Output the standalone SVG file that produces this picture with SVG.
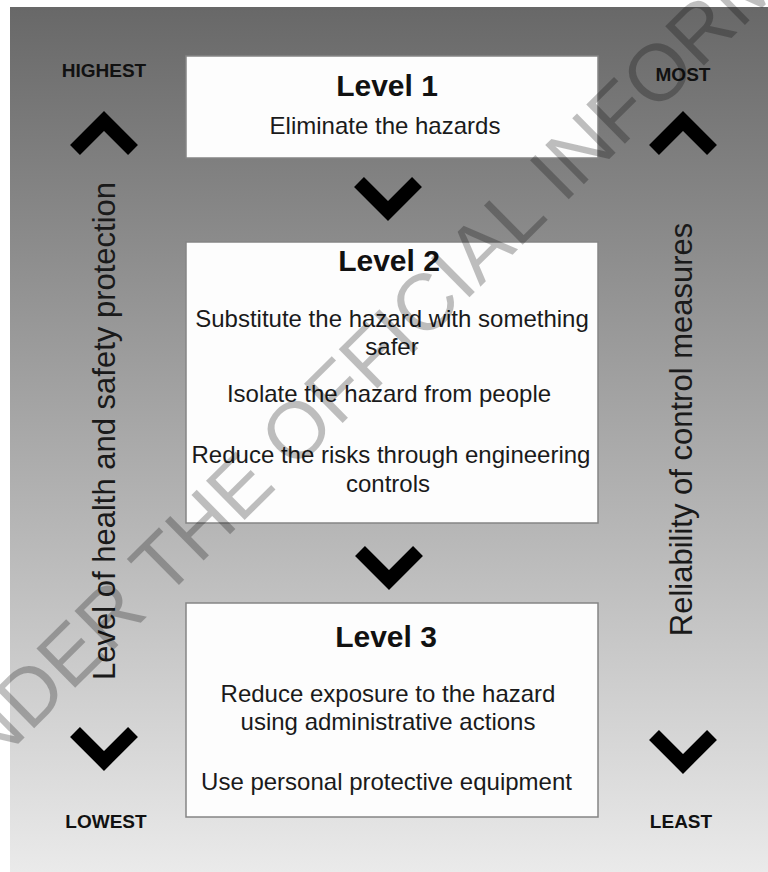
<svg xmlns="http://www.w3.org/2000/svg" width="768" height="872" viewBox="0 0 768 872">
  <defs>
    <linearGradient id="panelFill" x1="0" y1="7" x2="0" y2="872" gradientUnits="userSpaceOnUse">
      <stop offset="0" stop-color="#686868"/>
      <stop offset="1" stop-color="#eaeaea"/>
    </linearGradient>
    <style>
      .box { fill: #fdfdfd; stroke: #858585; stroke-width: 1.5; }
      .title { font-family: "Liberation Sans", Arial, sans-serif; font-weight: bold; font-size: 30px; fill: #111; text-anchor: middle; }
      .body { font-family: "Liberation Sans", Arial, sans-serif; font-size: 24px; fill: #1a1a1a; text-anchor: middle; }
      .tag { font-family: "Liberation Sans", Arial, sans-serif; font-weight: bold; font-size: 19px; fill: #111; text-anchor: middle; }
      .axis { font-family: "Liberation Sans", Arial, sans-serif; font-size: 31px; fill: #1a1a1a; text-anchor: middle; }
      .chev { fill: none; stroke: #000; stroke-width: 14; stroke-linejoin: miter; stroke-linecap: butt; }
      .mark { font-family: "Liberation Sans", Arial, sans-serif; font-size: 80px; fill: #000; fill-opacity: 0.25; }
    </style>
  </defs>

  <!-- page and shaded panel -->
  <rect x="0" y="0" width="768" height="872" fill="#ffffff"/>
  <rect x="10" y="7" width="758" height="865" fill="url(#panelFill)"/>

  <!-- left scale: level of protection -->
  <g id="scale-left">
    <text class="tag" x="104" y="77">HIGHEST</text>
    <polyline class="chev" points="75,150 104,121 133,150"/>
    <text class="axis" transform="translate(115,431) rotate(-90)">Level of health and safety protection</text>
    <polyline class="chev" points="75,732 104,761 133,732"/>
    <text class="tag" x="106" y="828">LOWEST</text>
  </g>

  <!-- right scale: reliability -->
  <g id="scale-right">
    <text class="tag" x="683" y="81">MOST</text>
    <polyline class="chev" points="654,150 683,121 712,150"/>
    <text class="axis" transform="translate(692,429.5) rotate(-90)">Reliability of control measures</text>
    <polyline class="chev" points="654,735 683,764 712,735"/>
    <text class="tag" x="681" y="828">LEAST</text>
  </g>

  <!-- level 1 -->
  <g id="level1">
    <rect class="box" x="186" y="56" width="412" height="102"/>
    <text class="title" x="387" y="96">Level 1</text>
    <text class="body" x="385" y="134">Eliminate the hazards</text>
  </g>

  <!-- level 2 -->
  <g id="level2">
    <rect class="box" x="186" y="242" width="412" height="281"/>
    <text class="title" x="389" y="271">Level 2</text>
    <text class="body" x="392" y="327">Substitute the hazard with something</text>
    <text class="body" x="392" y="355">safer</text>
    <text class="body" x="389" y="402">Isolate the hazard from people</text>
    <text class="body" x="391" y="463">Reduce the risks through engineering</text>
    <text class="body" x="388" y="492">controls</text>
  </g>

  <!-- level 3 -->
  <g id="level3">
    <rect class="box" x="186" y="603" width="412" height="214"/>
    <text class="title" x="386" y="647">Level 3</text>
    <text class="body" x="388" y="702">Reduce exposure to the hazard</text>
    <text class="body" x="388" y="730">using administrative actions</text>
    <text class="body" x="386.5" y="790">Use personal protective equipment</text>
  </g>

  <!-- connectors between levels -->
  <g id="connectors">
    <polyline class="chev" points="359,182 388,211 417,182"/>
    <polyline class="chev" points="360,551 389,580 418,551"/>
  </g>

  <!-- diagonal overprint -->
  <text class="mark" text-anchor="middle" transform="translate(388,378) rotate(-44.7)">NDER THE OFFICIAL INFORM</text>
</svg>
